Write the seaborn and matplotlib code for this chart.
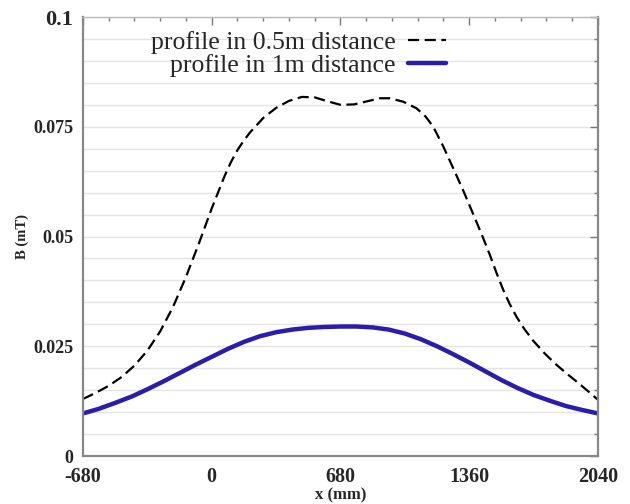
import numpy as np
import pandas as pd
import matplotlib
matplotlib.use('Agg')
import matplotlib.pyplot as plt
from matplotlib.ticker import MultipleLocator, FixedLocator
import seaborn as sns

# profile at 0.5 m distance (dashed)
x_half = [-680, -612, -544, -476, -408, -340, -272, -204, -136, -68, 0, 68, 102,
          136, 170, 204, 272, 340, 408, 476, 544, 612, 680, 752, 820, 889, 941,
          1012, 1082, 1130, 1170, 1223, 1276, 1329, 1381, 1434, 1470, 1505, 1540,
          1574, 1610, 1650, 1697, 1760, 1820, 1880, 1940, 2000, 2040]
b_half = [0.0130, 0.0144, 0.0160, 0.0180, 0.0206, 0.0240, 0.0284, 0.0340,
          0.0408, 0.0484, 0.0564, 0.0638, 0.0670, 0.0697, 0.0719, 0.0738,
          0.0770, 0.0793, 0.0809, 0.0818, 0.0817, 0.0808, 0.0800, 0.0801,
          0.0808, 0.0815, 0.0815, 0.0807, 0.0792, 0.0773, 0.0750, 0.0705,
          0.0655, 0.0604, 0.0551, 0.0496, 0.0457, 0.0416, 0.0378, 0.0346,
          0.0317, 0.0290, 0.0263, 0.0233, 0.0208, 0.0186, 0.0165, 0.0143, 0.0128]

# profile at 1 m distance (solid blue)
x_one = [-680, -600, -510, -420, -340, -255, -170, -85, 0, 85, 170, 255, 340,
         425, 510, 595, 680, 765, 850, 935, 1020, 1105, 1190, 1275, 1360, 1445,
         1530, 1615, 1700, 1785, 1870, 1955, 2040]
b_one = [0.0097, 0.0107, 0.0121, 0.0136, 0.0152, 0.0170, 0.0189, 0.0208,
         0.0226, 0.0244, 0.0260, 0.0273, 0.0282, 0.0288, 0.0292, 0.0294,
         0.0295, 0.0295, 0.0293, 0.0288, 0.0279, 0.0266, 0.0250, 0.0232,
         0.0213, 0.0193, 0.0173, 0.0155, 0.0139, 0.0126, 0.0114, 0.0105, 0.0097]

y_ticks = [0, 0.025, 0.05, 0.075, 0.1]
y_tick_labels = ['0', '0.025', '0.05', '0.075', '0.1']
x_ticks = [-680, 0, 680, 1360, 2040]
x_tick_labels = ['-680', '0', '680', '1360', '2040']

sns.set_style('white')
plt.rcParams['font.family'] = ['Liberation Serif', 'DejaVu Serif']
plt.rcParams['axes.unicode_minus'] = False

fig = plt.figure(figsize=(6.3, 5.04), dpi=100)
ax = fig.add_axes([0.1317, 0.0952, 0.8175, 0.8710])

sns.lineplot(x=x_half, y=b_half, ax=ax, color='black', linewidth=1.6,
             linestyle=(0, (5, 2.5)), label='profile in 0.5m distance')
sns.lineplot(x=x_one, y=b_one, ax=ax, color='#2b1cae', linewidth=3.2,
             label='profile in 1m distance')

ax.set_xlim(-680, 2040)
ax.set_ylim(0, 0.1)

ax.yaxis.set_major_locator(FixedLocator(y_ticks))
ax.set_yticklabels(y_tick_labels)
ax.yaxis.set_minor_locator(MultipleLocator(0.005))
ax.xaxis.set_major_locator(FixedLocator(x_ticks))
ax.set_xticklabels(x_tick_labels)
ax.xaxis.set_minor_locator(MultipleLocator(136))

ax.grid(axis='y', which='both', color='#e4e4e4', linewidth=1.0)
ax.grid(axis='x', which='both', visible=False)

ax.tick_params(which='both', direction='in', top=True, right=True, color='#777777')
ax.tick_params(which='major', length=6, width=1)
ax.tick_params(which='minor', length=3, width=1)
ax.tick_params(axis='x', which='major', labelsize=14.5, pad=8)
ax.tick_params(axis='y', which='major', labelsize=13, pad=7)
for lab in ax.get_xticklabels() + ax.get_yticklabels():
    lab.set_fontweight('bold')
ax.get_yticklabels()[-1].set_fontsize(16)

for side in ['left', 'bottom', 'right']:
    ax.spines[side].set_color('#888888')
    ax.spines[side].set_linewidth(1.6)
ax.spines['top'].set_color('#bbbbbb')
ax.spines['top'].set_linewidth(1.0)

ax.set_xlabel('x (mm)', fontsize=12, fontweight='bold', labelpad=0)
ax.set_ylabel('B (mT)', fontsize=10.5, fontweight='bold', labelpad=3)

leg = ax.legend(loc='upper right', bbox_to_anchor=(0.705, 0.969), frameon=False,
                markerfirst=False, fontsize=18.5, handlelength=1.5,
                handletextpad=0.45, labelspacing=0.0, borderaxespad=0,
                borderpad=0)

fig.savefig('out.png', dpi=100)
